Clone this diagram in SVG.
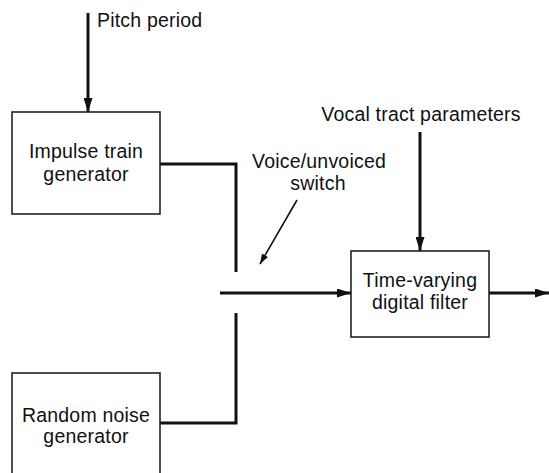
<svg xmlns="http://www.w3.org/2000/svg" width="549" height="473" viewBox="0 0 549 473">
<style>
.box{fill:#fff;stroke:#222;stroke-width:1.6}
.t{font-family:"Liberation Sans",Arial,sans-serif;font-size:19.5px;fill:#111;letter-spacing:0.2px}
.m{text-anchor:middle}
.w{fill:none;stroke:#111;stroke-width:3}
.thin{fill:none;stroke:#111;stroke-width:1.6}
</style>
<defs>
<marker id="ah" viewBox="0 0 14 9" refX="14" refY="4.5" markerWidth="14" markerHeight="9" markerUnits="userSpaceOnUse" orient="auto">
<path d="M0,0 L14,4.5 L0,9 z" fill="#111"/>
</marker>
<marker id="ahs" viewBox="0 0 10 7" refX="10" refY="3.5" markerWidth="10" markerHeight="7" markerUnits="userSpaceOnUse" orient="auto">
<path d="M0,0 L10,3.5 L0,7 z" fill="#111"/>
</marker>
</defs>
<g id="connectors">
<line class="w" x1="88" y1="13" x2="88" y2="112" marker-end="url(#ah)"/>
<polyline class="w" points="160,164 236,164 236,272"/>
<polyline class="w" points="160,423 236,423 236,313"/>
<line class="w" x1="220" y1="293" x2="351" y2="293" marker-end="url(#ah)"/>
<line class="w" x1="420" y1="132" x2="420" y2="251" marker-end="url(#ah)"/>
<line class="w" x1="489" y1="293" x2="549" y2="293" marker-end="url(#ah)"/>
<line class="thin" x1="297" y1="200" x2="260" y2="264" marker-end="url(#ahs)"/>
</g>
<g id="pitch-label"><text class="t" x="97" y="27">Pitch period</text></g>
<g id="vocal-label"><text class="t m" x="421" y="121">Vocal tract parameters</text></g>
<g id="switch-label">
<text class="t m" x="319" y="168">Voice/unvoiced</text>
<text class="t m" x="318" y="190">switch</text>
</g>
<g id="impulse">
<rect class="box" x="12" y="112" width="148" height="102"/>
<text class="t m" x="86" y="158">Impulse train</text>
<text class="t m" x="86" y="181">generator</text>
</g>
<g id="noise">
<rect class="box" x="12" y="373" width="148" height="110"/>
<text class="t m" x="86" y="422">Random noise</text>
<text class="t m" x="86" y="443">generator</text>
</g>
<g id="filter">
<rect class="box" x="351" y="251" width="138" height="86"/>
<text class="t m" x="420" y="287">Time-varying</text>
<text class="t m" x="420" y="309">digital filter</text>
</g>
</svg>
